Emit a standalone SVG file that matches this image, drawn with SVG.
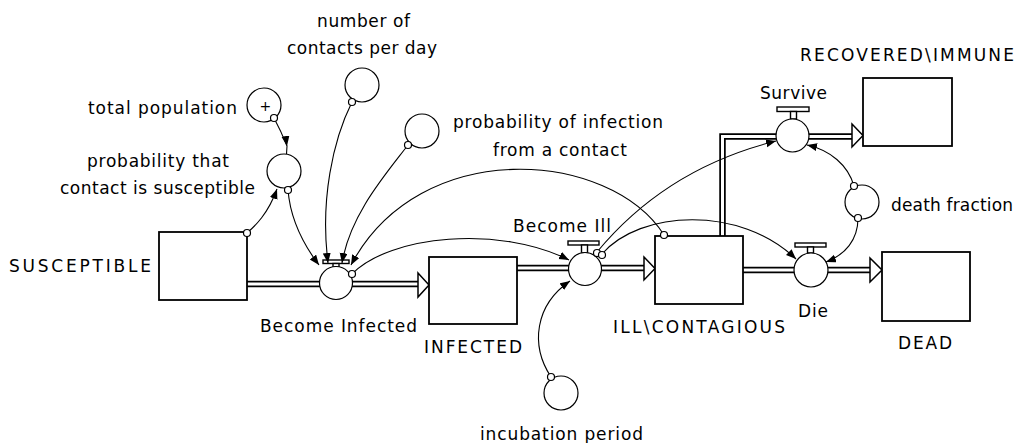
<svg xmlns="http://www.w3.org/2000/svg" width="1018" height="443" viewBox="0 0 1018 443">
<style>
text{font-family:"DejaVu Sans","Liberation Sans",sans-serif;font-size:17px;fill:#000}
.po{fill:none;stroke:#000;stroke-width:6.5;stroke-linejoin:miter}
.pi{fill:none;stroke:#fff;stroke-width:3;stroke-linejoin:miter}
.stock{fill:#fff;stroke:#000;stroke-width:1.8}
.ring{fill:#fff;stroke:#000;stroke-width:1.2}
.hnd{fill:#fff;stroke:#000;stroke-width:1.4}
.head{fill:#fff;stroke:#000;stroke-width:1.5;stroke-linejoin:miter}
.con{fill:none;stroke:#000;stroke-width:1.1}
.org{fill:#fff;stroke:#000;stroke-width:1.2}
</style>
<defs>
<marker id="ar" markerUnits="userSpaceOnUse" markerWidth="11" markerHeight="9" refX="10" refY="4" orient="auto"><path d="M0,0 L10,4 L0,8 z" fill="#000"/></marker>
</defs>
<g id="flows">
<path class="po" d="M247,284 H418"/><path class="pi" d="M247,284 H418"/>
<path class="po" d="M517,268 H644"/><path class="pi" d="M517,268 H644"/>
<path class="po" d="M722.5,237 V136.5 H853"/><path class="pi" d="M722.5,237 V136.5 H853"/>
<path class="po" d="M743,270 H871"/><path class="pi" d="M743,270 H871"/>
<path class="head" d="M418,273 L429,285 L418,297 z"/>
<path class="head" d="M644,257 L655,268.5 L644,280 z"/>
<path class="head" d="M852,124 L863,135.5 L852,147 z"/>
<path class="head" d="M870,258 L882,270 L870,282 z"/>
</g>
<g id="susceptible"><rect class="stock" x="159" y="232" width="88" height="68"/><text x="9" y="272" textLength="142" lengthAdjust="spacing">SUSCEPTIBLE</text></g>
<g id="infected"><rect class="stock" x="429" y="257" width="88" height="67"/><text x="424" y="353" textLength="98" lengthAdjust="spacing">INFECTED</text></g>
<g id="ill"><rect class="stock" x="655" y="236" width="88" height="68"/><text x="613" y="333" textLength="172" lengthAdjust="spacing">ILL\CONTAGIOUS</text></g>
<g id="recovered"><rect class="stock" x="863" y="78" width="89" height="68"/><text x="800" y="61" textLength="214" lengthAdjust="spacing">RECOVERED\IMMUNE</text></g>
<g id="dead"><rect class="stock" x="882" y="252" width="88" height="69"/><text x="898" y="349" textLength="54" lengthAdjust="spacing">DEAD</text></g>
<g id="become-infected"><rect class="hnd" x="323" y="260" width="26" height="3.5"/><rect class="hnd" x="333" y="263.5" width="6" height="3.5"/><circle class="ring" cx="336" cy="283" r="16.5"/><text x="260" y="332" textLength="157" lengthAdjust="spacing">Become Infected</text></g>
<g id="become-ill"><rect class="hnd" x="568" y="241" width="31" height="4"/><rect class="hnd" x="581.5" y="245" width="6" height="8"/><circle class="ring" cx="585" cy="269" r="16.5"/><text x="513" y="232" textLength="98" lengthAdjust="spacing">Become Ill</text></g>
<g id="survive"><rect class="hnd" x="777" y="107" width="32" height="4.5"/><rect class="hnd" x="790.5" y="111.5" width="6" height="7.5"/><circle class="ring" cx="792.5" cy="135.5" r="16.5"/><text x="760" y="99" textLength="67" lengthAdjust="spacing">Survive</text></g>
<g id="die"><rect class="hnd" x="795" y="243" width="31" height="4"/><rect class="hnd" x="807.5" y="247" width="6" height="6"/><circle class="ring" cx="811" cy="270" r="17"/><text x="798" y="317" textLength="30" lengthAdjust="spacing">Die</text></g>
<g id="total-population"><circle class="ring" cx="264" cy="105" r="17"/><text x="259.5" y="111" style="font-size:14px;fill:#000">+</text><text x="88" y="114" textLength="149" lengthAdjust="spacing">total population</text></g>
<g id="prob-susceptible"><circle class="ring" cx="284" cy="171" r="17"/><text x="87" y="167" textLength="142" lengthAdjust="spacing">probability that</text><text x="60" y="194" textLength="195" lengthAdjust="spacing">contact is susceptible</text></g>
<g id="contacts-per-day"><circle class="ring" cx="362" cy="85" r="17"/><text x="317" y="27" textLength="93" lengthAdjust="spacing">number of</text><text x="287" y="54" textLength="150" lengthAdjust="spacing">contacts per day</text></g>
<g id="prob-infection"><circle class="ring" cx="422" cy="131" r="17"/><text x="453" y="128" textLength="210" lengthAdjust="spacing">probability of infection</text><text x="493" y="156" textLength="134" lengthAdjust="spacing">from a contact</text></g>
<g id="incubation-period"><circle class="ring" cx="561" cy="393" r="17"/><text x="480" y="440" textLength="163" lengthAdjust="spacing">incubation period</text></g>
<g id="death-fraction"><circle class="ring" cx="862" cy="202" r="17"/><text x="891" y="211" textLength="122" lengthAdjust="spacing">death fraction</text></g>
<g id="connectors">
<path class="con" d="M274,118 Q281,131 287,146 L286.5,154" marker-mid="url(#ar)"/>
<path class="con" d="M247,233 C255,226 268,214 277,189" marker-end="url(#ar)"/>
<path class="con" d="M288,190 C290,215 300,240 319,265" marker-end="url(#ar)"/>
<path class="con" d="M352,102 C333,140 320,200 328,263" marker-end="url(#ar)"/>
<path class="con" d="M408,145 C385,175 350,215 342,263" marker-end="url(#ar)"/>
<path class="con" d="M664,235 C610,150 420,135 351,265" marker-end="url(#ar)"/>
<path class="con" d="M352,274 C390,235 500,225 569,260" marker-end="url(#ar)"/>
<path class="con" d="M551,377 C530,345 535,305 570,281" marker-end="url(#ar)"/>
<path class="con" d="M597,252 C640,200 700,160 776,141" marker-end="url(#ar)"/>
<path class="con" d="M602,254 C640,210 740,205 796,259" marker-end="url(#ar)"/>
<path class="con" d="M854,186 C848,165 830,150 807,145" marker-end="url(#ar)"/>
<path class="con" d="M858,218 C858,240 845,255 826,262" marker-end="url(#ar)"/>
<circle class="org" cx="274" cy="118" r="3.5"/>
<circle class="org" cx="247" cy="233" r="3.5"/>
<circle class="org" cx="288" cy="190" r="3.5"/>
<circle class="org" cx="352" cy="102" r="3.5"/>
<circle class="org" cx="408" cy="145" r="3.5"/>
<circle class="org" cx="664" cy="235" r="3.5"/>
<circle class="org" cx="352" cy="274" r="3.5"/>
<circle class="org" cx="551" cy="377" r="3.5"/>
<circle class="org" cx="597" cy="253" r="3.5"/>
<circle class="org" cx="602" cy="255" r="3.5"/>
<circle class="org" cx="854" cy="186" r="3.5"/>
<circle class="org" cx="858" cy="218" r="3.5"/>
</g>
</svg>
